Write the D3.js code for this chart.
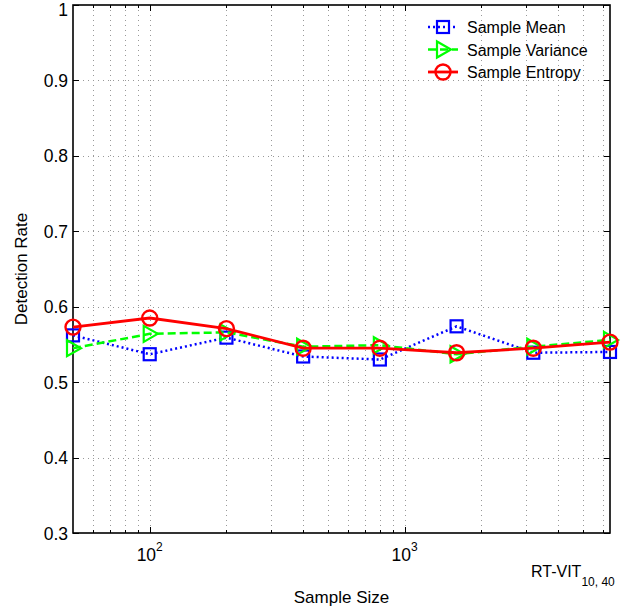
<!DOCTYPE html>
<html>
<head>
<meta charset="utf-8">
<script src="https://cdn.jsdelivr.net/npm/d3@7"></script>
<style>
  body { margin: 0; background: #fff; }
  text { font-family: "Liberation Sans", Arial, sans-serif; fill: #000; }
</style>
</head>
<body>
<svg id="chart" width="631" height="609"></svg>
<script>
// sample sizes (log axis)
const sampleSizes = [50, 100, 200, 400, 800, 1600, 3200, 6400];
// detection rates per statistic
const meanRate     = [0.562, 0.537, 0.559, 0.534, 0.530, 0.574, 0.539, 0.540];
const varianceRate = [0.545, 0.564, 0.566, 0.547, 0.549, 0.537, 0.547, 0.556];
const entropyRate  = [0.573, 0.585, 0.571, 0.545, 0.545, 0.539, 0.545, 0.553];
const seriesNames  = ['Sample Mean', 'Sample Variance', 'Sample Entropy'];
const yTicks = [0.3, 0.4, 0.5, 0.6, 0.7, 0.8, 0.9, 1];
const xMajor = [100, 1000];

const svg = d3.select('#chart');
const margin = { top: 5, right: 21, bottom: 76, left: 73 };
const W = +svg.attr('width'), H = +svg.attr('height');

const x = d3.scaleLog()
  .domain([50, 6400])
  .range([margin.left, W - margin.right]);
const y = d3.scaleLinear()
  .domain([0.3, 1])
  .range([H - margin.bottom, margin.top]);

const x0 = x.range()[0], x1 = x.range()[1];
const y0 = y.range()[0], y1 = y.range()[1];

// minor ticks of the log axis
const xMinor = [];
[10, 100, 1000].forEach(d => {
  for (let k = 2; k <= 9; k++) {
    const v = d * k;
    if (v > 50 && v < 6400 && !xMajor.includes(v)) xMinor.push(v);
  }
});
const xGrid = xMinor.concat(xMajor);

// grid
const grid = svg.append('g')
  .attr('stroke', '#999')
  .attr('stroke-width', 1)
  .attr('stroke-dasharray', '1,4');
grid.selectAll('.vg').data(xGrid).enter().append('line')
  .attr('x1', d => Math.round(x(d)) + 0.5).attr('x2', d => Math.round(x(d)) + 0.5)
  .attr('y1', y1).attr('y2', y0);
grid.selectAll('.hg').data(yTicks.slice(1, -1)).enter().append('line')
  .attr('x1', x0).attr('x2', x1)
  .attr('y1', d => Math.round(y(d)) + 0.5).attr('y2', d => Math.round(y(d)) + 0.5);

// ticks (inward, all four sides)
const ticks = svg.append('g').attr('stroke', '#000').attr('stroke-width', 1);
xMajor.forEach(v => {
  const px = Math.round(x(v)) + 0.5;
  ticks.append('line').attr('x1', px).attr('x2', px).attr('y1', y0).attr('y2', y0 - 6);
  ticks.append('line').attr('x1', px).attr('x2', px).attr('y1', y1).attr('y2', y1 + 6);
});
xMinor.forEach(v => {
  const px = Math.round(x(v)) + 0.5;
  ticks.append('line').attr('x1', px).attr('x2', px).attr('y1', y0).attr('y2', y0 - 3);
  ticks.append('line').attr('x1', px).attr('x2', px).attr('y1', y1).attr('y2', y1 + 3);
});
yTicks.forEach(v => {
  const py = Math.round(y(v)) + 0.5;
  ticks.append('line').attr('x1', x0).attr('x2', x0 + 6).attr('y1', py).attr('y2', py);
  ticks.append('line').attr('x1', x1).attr('x2', x1 - 6).attr('y1', py).attr('y2', py);
});

// axes box
svg.append('rect')
  .attr('x', x0).attr('y', y1)
  .attr('width', x1 - x0).attr('height', y0 - y1)
  .attr('fill', 'none').attr('stroke', '#000').attr('stroke-width', 1.6);

// tick labels
svg.append('g').selectAll('text').data(yTicks).enter().append('text')
  .attr('x', x0 - 5).attr('y', d => Math.max(y(d) + 6.5, 16))
  .attr('text-anchor', 'end').attr('font-size', 17.5)
  .text(d => d === 1 ? '1' : d.toFixed(1));

xMajor.forEach(v => {
  const t = svg.append('text')
    .attr('x', x(v)).attr('y', y0 + 28)
    .attr('text-anchor', 'middle').attr('font-size', 17.5);
  t.append('tspan').text('10');
  t.append('tspan').attr('font-size', 12).attr('dy', -10).text(String(Math.log10(v)));
});

// axis titles
svg.append('text')
  .attr('x', (x0 + x1) / 2).attr('y', 603)
  .attr('text-anchor', 'middle').attr('font-size', 17)
  .text('Sample Size');
svg.append('text')
  .attr('transform', `translate(27,${(y0 + y1) / 2}) rotate(-90)`)
  .attr('text-anchor', 'middle').attr('font-size', 17)
  .text('Detection Rate');
const note = svg.append('text').attr('x', 531).attr('y', 577).attr('font-size', 16);
note.append('tspan').text('RT-VIT');
note.append('tspan').attr('font-size', 12).attr('dy', 9).text('10, 40');

// series
const series = [
  { name: seriesNames[0], values: meanRate, color: '#0000ff', dash: '2,3', width: 2.5, marker: 'square' },
  { name: seriesNames[1], values: varianceRate, color: '#00ff00', dash: '8,4', width: 2.5, marker: 'triangle' },
  { name: seriesNames[2], values: entropyRate, color: '#ff0000', dash: null, width: 2.8, marker: 'circle' }
];

function drawMarker(g, type, cx, cy, color) {
  if (type === 'square') {
    g.append('rect').attr('x', cx - 6).attr('y', cy - 6).attr('width', 12).attr('height', 12)
      .attr('fill', 'none').attr('stroke', color).attr('stroke-width', 2.2);
  } else if (type === 'triangle') {
    g.append('path')
      .attr('d', `M${cx - 6},${cy - 8}L${cx + 8},${cy}L${cx - 6},${cy + 8}Z`)
      .attr('fill', 'none').attr('stroke', color).attr('stroke-width', 2.2);
  } else {
    g.append('circle').attr('cx', cx).attr('cy', cy).attr('r', 7.5)
      .attr('fill', 'none').attr('stroke', color).attr('stroke-width', 2.4);
  }
}

const line = d3.line().x(d => x(d[0])).y(d => y(d[1]));
series.forEach(s => {
  const pts = sampleSizes.map((n, i) => [n, s.values[i]]);
  const g = svg.append('g');
  g.append('path').datum(pts)
    .attr('d', line)
    .attr('fill', 'none')
    .attr('stroke', s.color)
    .attr('stroke-width', s.width)
    .attr('stroke-dasharray', s.dash);
  pts.forEach(p => drawMarker(g, s.marker, x(p[0]), y(p[1]), s.color));
});

// legend
const legend = svg.append('g');
series.forEach((s, i) => {
  const ly = 27 + i * 22.5;
  legend.append('line')
    .attr('x1', 428).attr('x2', 458).attr('y1', ly).attr('y2', ly)
    .attr('stroke', s.color).attr('stroke-width', s.width)
    .attr('stroke-dasharray', s.dash);
  drawMarker(legend, s.marker, 443, ly, s.color);
  legend.append('text')
    .attr('x', 467).attr('y', ly + 6)
    .attr('font-size', 16)
    .text(s.name);
});
</script>
</body>
</html>
